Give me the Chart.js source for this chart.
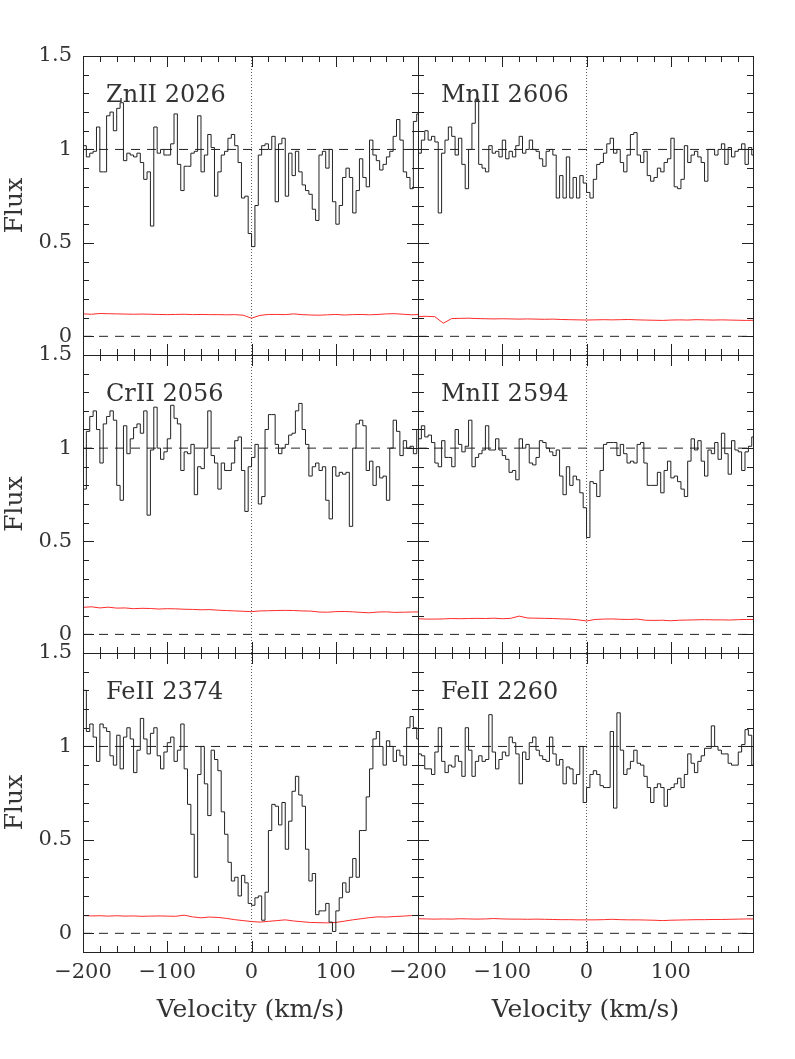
<!DOCTYPE html>
<html>
<head>
<meta charset="utf-8">
<script src="https://cdn.jsdelivr.net/npm/chart.js@4.4.1/dist/chart.umd.min.js"></script>
<style>
  html, body { margin: 0; padding: 0; background: #fff; }
  #page { position: relative; width: 795px; height: 1059px; overflow: hidden; background: #fff; }
  #page canvas { position: absolute; }
</style>
</head>
<body>
<div id="page"></div>
<script>
// velocity grid: left edge of first bin and bin width (km/s)
const binStart = -200;
const binWidth = 4;
// error spectra are read every 10 km/s
const errStart = -200;
const errStep = 10;

const xMin = -200, xMax = 197.5;
const yMin = -0.1, yMax = 1.5;
const xTickLabels = [-200, -100, 0, 100];
const yTickLabels = [0, 0.5, 1, 1.5];

const znii2026Flux = [
  1.02, 0.96, 0.98, 0.99, 1.12, 0.88, 0.88, 1.18, 1.20, 1.10,
  1.22, 1.25, 0.94, 0.98, 0.97, 0.96, 0.98, 0.93, 0.84, 0.88,
  0.59, 1.12, 0.98, 1.00, 0.97, 0.97, 1.03, 1.19, 0.92, 0.78,
  0.91, 0.91, 0.98, 0.99, 1.18, 0.88, 0.97, 1.08, 1.01, 0.75,
  0.88, 0.97, 0.99, 1.06, 1.08, 1.02, 0.93, 0.74, 0.75, 0.55,
  0.48, 0.70, 0.97, 1.02, 1.03, 1.00, 1.07, 0.72, 1.03, 1.06,
  0.75, 0.98, 0.86, 0.99, 0.88, 0.81, 0.78, 0.76, 0.68, 0.62,
  0.97, 0.99, 0.90, 1.00, 0.72, 0.60, 0.70, 0.85, 0.90, 0.85,
  0.66, 0.78, 0.95, 0.85, 0.80, 1.05, 0.97, 0.94, 0.89, 0.92,
  0.96, 0.99, 1.07, 1.16, 1.05, 0.88, 0.85, 0.79, 1.15, 1.19
];
const znii2026Err = [
  0.120, 0.118, 0.122, 0.121, 0.120, 0.119, 0.118, 0.119, 0.118, 0.117,
  0.116, 0.117, 0.118, 0.116, 0.117, 0.116, 0.116, 0.115, 0.116, 0.113,
  0.097, 0.112, 0.117, 0.117, 0.116, 0.120, 0.116, 0.114, 0.113, 0.115,
  0.117, 0.114, 0.116, 0.117, 0.115, 0.117, 0.120, 0.121, 0.118, 0.115, 0.117
];

const mnii2606Flux = [
  0.98, 1.05, 1.10, 1.05, 1.07, 1.04, 0.66, 0.98, 1.05, 1.12,
  1.07, 0.97, 1.06, 0.92, 0.79, 1.00, 1.14, 1.27, 0.92, 0.90,
  0.88, 1.02, 0.98, 0.99, 0.96, 1.05, 0.95, 0.99, 0.96, 1.02,
  1.07, 0.98, 1.00, 1.05, 1.00, 0.99, 0.95, 0.91, 0.99, 1.00,
  0.97, 0.74, 0.86, 0.74, 0.96, 0.74, 0.85, 0.74, 0.86, 0.82,
  0.77, 0.74, 0.84, 0.92, 0.93, 0.98, 1.03, 1.06, 0.98, 1.00,
  0.93, 0.88, 0.97, 1.08, 1.09, 0.97, 0.93, 0.99, 0.86, 0.83,
  0.85, 0.90, 0.88, 0.93, 0.95, 1.06, 0.80, 0.79, 0.84, 1.02,
  0.93, 0.97, 0.99, 0.96, 0.93, 0.83, 1.00, 1.00, 0.97, 1.00,
  1.03, 0.92, 1.01, 0.96, 0.99, 1.00, 1.03, 0.92, 1.01, 0.97
];
const mnii2606Err = [
  0.106, 0.107, 0.105, 0.070, 0.095, 0.096, 0.097, 0.095, 0.094, 0.093,
  0.094, 0.093, 0.092, 0.093, 0.092, 0.091, 0.092, 0.090, 0.089, 0.088,
  0.087, 0.088, 0.089, 0.088, 0.089, 0.090, 0.088, 0.087, 0.086, 0.085,
  0.087, 0.088, 0.087, 0.089, 0.088, 0.087, 0.088, 0.087, 0.086, 0.085, 0.086
];

const crii2056Flux = [
  0.78, 1.09, 1.17, 1.20, 1.10, 0.92, 1.13, 1.17, 1.20, 1.15,
  0.80, 0.72, 1.12, 0.97, 1.05, 1.11, 1.13, 1.08, 1.20, 0.64,
  0.99, 1.22, 1.00, 0.94, 0.98, 1.05, 1.23, 1.16, 1.13, 0.88,
  0.98, 0.97, 1.02, 0.75, 0.90, 0.89, 1.00, 1.20, 0.96, 0.92,
  0.78, 0.92, 0.88, 0.88, 0.92, 1.04, 1.06, 0.88, 0.66, 0.90,
  0.95, 1.02, 0.70, 0.74, 1.10, 1.18, 1.18, 1.02, 0.97, 1.00,
  1.02, 1.07, 1.08, 1.20, 1.24, 1.10, 1.02, 0.85, 0.90, 0.92,
  0.88, 0.90, 0.72, 0.62, 0.90, 0.85, 0.87, 0.86, 0.87, 0.58,
  1.00, 1.13, 1.15, 1.12, 0.88, 0.93, 0.80, 0.90, 0.84, 0.85,
  0.72, 1.00, 1.15, 1.09, 0.96, 1.04, 1.00, 1.01, 0.97, 1.10
];
const crii2056Err = [
  0.145, 0.148, 0.142, 0.146, 0.141, 0.142, 0.138, 0.140, 0.139, 0.136,
  0.138, 0.137, 0.135, 0.134, 0.132, 0.133, 0.130, 0.128, 0.126, 0.124,
  0.122, 0.126, 0.127, 0.128, 0.129, 0.128, 0.126, 0.125, 0.120, 0.119,
  0.122, 0.123, 0.121, 0.118, 0.116, 0.120, 0.121, 0.118, 0.119, 0.120, 0.121
];

const mnii2594Flux = [
  1.05, 1.12, 1.06, 1.07, 1.03, 0.92, 0.90, 1.04, 0.95, 0.95,
  0.90, 1.10, 1.02, 0.98, 1.01, 1.15, 0.90, 0.95, 0.97, 0.99,
  1.12, 0.99, 0.99, 1.05, 0.99, 0.96, 0.94, 0.87, 0.88, 0.83,
  1.05, 1.00, 1.02, 0.92, 0.91, 0.95, 1.04, 1.03, 1.00, 0.98,
  0.96, 0.99, 0.85, 0.75, 0.90, 0.80, 0.85, 0.83, 0.76, 0.68,
  0.52, 0.82, 0.81, 0.74, 0.88, 1.02, 1.03, 1.03, 1.03, 0.96,
  1.02, 0.97, 0.92, 0.93, 0.92, 1.02, 1.03, 0.92, 0.80, 0.80,
  0.80, 0.87, 0.76, 0.88, 0.93, 0.84, 0.85, 0.82, 0.78, 0.74,
  0.93, 1.05, 0.99, 1.04, 0.93, 0.85, 0.99, 0.97, 1.03, 0.94,
  1.08, 0.97, 0.86, 1.04, 0.99, 0.98, 0.88, 0.98, 1.01, 1.06
];
const mnii2594Err = [
  0.084, 0.082, 0.082, 0.083, 0.085, 0.084, 0.085, 0.086, 0.085, 0.087,
  0.084, 0.086, 0.098, 0.088, 0.087, 0.086, 0.085, 0.083, 0.082, 0.078,
  0.072, 0.080, 0.082, 0.083, 0.081, 0.080, 0.082, 0.076, 0.075, 0.076,
  0.073, 0.076, 0.077, 0.078, 0.079, 0.078, 0.078, 0.077, 0.079, 0.080, 0.080
];

const feii2374Flux = [
  1.30, 1.08, 1.12, 1.05, 0.92, 1.12, 1.10, 1.08, 0.95, 0.90,
  1.06, 0.88, 1.05, 1.10, 1.04, 0.86, 0.98, 1.15, 1.04, 0.96,
  1.07, 1.10, 0.95, 0.88, 0.97, 1.02, 1.05, 0.92, 0.98, 1.12,
  0.88, 0.69, 0.53, 0.30, 0.85, 1.00, 0.80, 0.63, 0.98, 0.93,
  0.87, 0.65, 0.53, 0.38, 0.28, 0.30, 0.20, 0.31, 0.27, 0.16,
  0.15, 0.19, 0.20, 0.07, 0.22, 0.55, 0.69, 0.68, 0.58, 0.70,
  0.45, 0.60, 0.76, 0.84, 0.74, 0.68, 0.45, 0.28, 0.32, 0.10,
  0.12, 0.12, 0.16, 0.06, 0.01, 0.12, 0.19, 0.27, 0.22, 0.30,
  0.40, 0.30, 0.55, 0.55, 0.73, 0.88, 1.04, 1.08, 1.00, 0.90,
  1.03, 1.00, 0.92, 0.98, 0.95, 0.90, 1.10, 1.16, 1.10, 1.04
];
const feii2374Err = [
  0.095, 0.093, 0.094, 0.092, 0.094, 0.092, 0.093, 0.091, 0.092, 0.093,
  0.092, 0.091, 0.097, 0.088, 0.083, 0.087, 0.085, 0.080, 0.073, 0.068,
  0.063, 0.060, 0.064, 0.068, 0.072, 0.066, 0.062, 0.058, 0.057, 0.056,
  0.058, 0.065, 0.072, 0.078, 0.084, 0.088, 0.087, 0.090, 0.092, 0.095, 0.096
];

const feii2260Flux = [
  0.96, 0.95, 0.88, 0.88, 0.85, 0.97, 1.10, 0.92, 0.86, 0.90,
  0.89, 0.95, 0.92, 0.84, 1.10, 0.98, 0.84, 0.92, 0.95, 0.92,
  0.93, 1.17, 0.97, 0.88, 0.93, 0.97, 0.95, 1.05, 1.02, 0.96,
  0.80, 0.97, 0.93, 1.02, 1.05, 0.98, 0.95, 0.93, 0.92, 1.05,
  0.96, 0.90, 0.93, 0.80, 0.89, 0.88, 0.80, 0.85, 1.00, 0.70,
  0.78, 0.85, 0.87, 0.85, 0.79, 0.78, 0.78, 1.08, 0.67, 1.18,
  0.98, 0.85, 0.88, 0.92, 0.98, 0.91, 0.90, 0.84, 0.78, 0.70,
  0.78, 0.80, 0.78, 0.68, 0.77, 0.78, 0.80, 0.83, 0.78, 0.85,
  0.96, 0.91, 0.86, 0.92, 0.95, 0.99, 0.99, 1.11, 1.00, 0.98,
  0.96, 0.96, 0.91, 0.90, 0.90, 0.97, 1.01, 1.09, 1.06, 0.90
];
const feii2260Err = [
  0.078, 0.077, 0.076, 0.077, 0.076, 0.078, 0.077, 0.076, 0.077, 0.079,
  0.077, 0.076, 0.076, 0.075, 0.076, 0.075, 0.074, 0.073, 0.073, 0.072,
  0.072, 0.072, 0.073, 0.075, 0.073, 0.072, 0.072, 0.071, 0.070, 0.068,
  0.070, 0.071, 0.072, 0.073, 0.073, 0.074, 0.074, 0.075, 0.076, 0.077, 0.077
];

// panels in reading order: left column then right column, row by row
const panels = [
  { label: "ZnII 2026", flux: znii2026Flux, err: znii2026Err },
  { label: "MnII 2606", flux: mnii2606Flux, err: mnii2606Err },
  { label: "CrII 2056", flux: crii2056Flux, err: crii2056Err },
  { label: "MnII 2594", flux: mnii2594Flux, err: mnii2594Err },
  { label: "FeII 2374", flux: feii2374Flux, err: feii2374Err },
  { label: "FeII 2260", flux: feii2260Flux, err: feii2260Err },
];

// page geometry of the frames
const colLeft = [83, 418];
const colWidth = 335;
const rowTop = [56, 355, 653];
const rowHeight = [299, 298, 299];

const fontFamily = '"DejaVu Serif", "Liberation Serif", serif';
const textColor = "#333";
const lineColor = "#222";

const frame = {
  id: "frame",
  afterDatasetsDraw(chart, args, opts) {
    const { ctx, chartArea: a, scales: { x, y } } = chart;
    ctx.save();
    ctx.strokeStyle = lineColor;
    ctx.lineWidth = 1;
    ctx.beginPath();
    for (let v = -200; v <= xMax; v += 20) {
      const px = Math.round(x.getPixelForValue(v)) + 0.5;
      const len = v % 100 === 0 ? 11 : 6;
      ctx.moveTo(px, a.bottom); ctx.lineTo(px, a.bottom - len);
      ctx.moveTo(px, a.top); ctx.lineTo(px, a.top + len);
    }
    for (let k = 0; k <= 15; k++) {
      const py = Math.round(y.getPixelForValue(k / 10)) + 0.5;
      const len = k % 5 === 0 ? 11 : 6;
      ctx.moveTo(a.left, py); ctx.lineTo(a.left + len, py);
      ctx.moveTo(a.right, py); ctx.lineTo(a.right - len, py);
    }
    ctx.stroke();
    ctx.strokeRect(Math.round(a.left) + 0.5, Math.round(a.top) + 0.5,
      Math.round(a.width), Math.round(a.height));
    ctx.fillStyle = textColor;
    ctx.font = "24px " + fontFamily;
    ctx.textBaseline = "alphabetic";
    ctx.fillText(opts.label, a.left + 23, a.top + 46);
    ctx.restore();
  },
};

const page = document.getElementById("page");

panels.forEach((p, k) => {
  const col = k % 2;
  const row = Math.floor(k / 2);
  const axisW = col === 0 ? 83 : 0;
  const axisH = row === 2 ? 95 : 0;
  const padL = col === 0 ? 0 : 50;
  const padR = col === 0 ? 10 : 42;
  const padT = 30;
  const padB = row === 2 ? 0 : 30;

  const canvas = document.createElement("canvas");
  const w = padL + axisW + colWidth + padR;
  const h = padT + rowHeight[row] + axisH + padB;
  canvas.width = w;
  canvas.height = h;
  canvas.style.left = (colLeft[col] - axisW - padL) + "px";
  canvas.style.top = (rowTop[row] - padT) + "px";
  page.appendChild(canvas);

  const fluxPoints = p.flux.map((f, i) => ({ x: binStart + i * binWidth, y: f }));
  fluxPoints.push({ x: binStart + p.flux.length * binWidth, y: p.flux[p.flux.length - 1] });
  const errPoints = p.err.map((e, i) => ({ x: errStart + i * errStep, y: e }));

  new Chart(canvas, {
    type: "line",
    data: {
      datasets: [
        { data: fluxPoints, stepped: "before", borderColor: lineColor, borderWidth: 1, pointRadius: 0 },
        { data: errPoints, borderColor: "#ff2a2a", borderWidth: 1, pointRadius: 0 },
        { data: [{ x: xMin, y: 1 }, { x: xMax, y: 1 }], borderColor: lineColor, borderWidth: 1, borderDash: [9, 7], pointRadius: 0 },
        { data: [{ x: xMin, y: 0 }, { x: xMax, y: 0 }], borderColor: lineColor, borderWidth: 1, borderDash: [9, 7], pointRadius: 0 },
        { data: [{ x: 0, y: yMin }, { x: 0, y: yMax }], borderColor: "#555", borderWidth: 1, borderDash: [1, 2], pointRadius: 0 },
      ],
    },
    options: {
      responsive: false,
      animation: false,
      events: [],
      layout: { padding: { left: padL, right: padR, top: padT, bottom: padB } },
      plugins: {
        legend: { display: false },
        tooltip: { enabled: false },
        frame: { label: p.label },
      },
      scales: {
        x: {
          type: "linear",
          min: xMin,
          max: xMax,
          display: row === 2,
          afterBuildTicks: (s) => { s.ticks = xTickLabels.map((v) => ({ value: v })); },
          afterFit: (s) => { if (row === 2) s.height = axisH; },
          grid: { display: false, drawTicks: false },
          border: { display: false },
          ticks: {
            padding: 8,
            autoSkip: false,
            maxRotation: 0,
            color: textColor,
            font: { family: fontFamily, size: 21 },
            callback: (v) => String(v).replace("-", "\u2212"),
          },
          title: {
            display: true,
            text: "Velocity (km/s)",
            color: textColor,
            font: { family: fontFamily, size: 25 },
            padding: { top: 0, bottom: 22 },
          },
        },
        y: {
          type: "linear",
          min: yMin,
          max: yMax,
          display: col === 0,
          afterBuildTicks: (s) => { s.ticks = yTickLabels.map((v) => ({ value: v })); },
          afterFit: (s) => { if (col === 0) s.width = axisW; },
          grid: { display: false, drawTicks: false },
          border: { display: false },
          ticks: {
            padding: 11,
            color: textColor,
            font: { family: fontFamily, size: 21 },
            callback: (v) => String(v),
          },
          title: {
            display: true,
            text: "Flux",
            color: textColor,
            font: { family: fontFamily, size: 25 },
            padding: { top: 0, bottom: 0 },
          },
        },
      },
    },
    plugins: [frame],
  });
});
</script>
</body>
</html>
